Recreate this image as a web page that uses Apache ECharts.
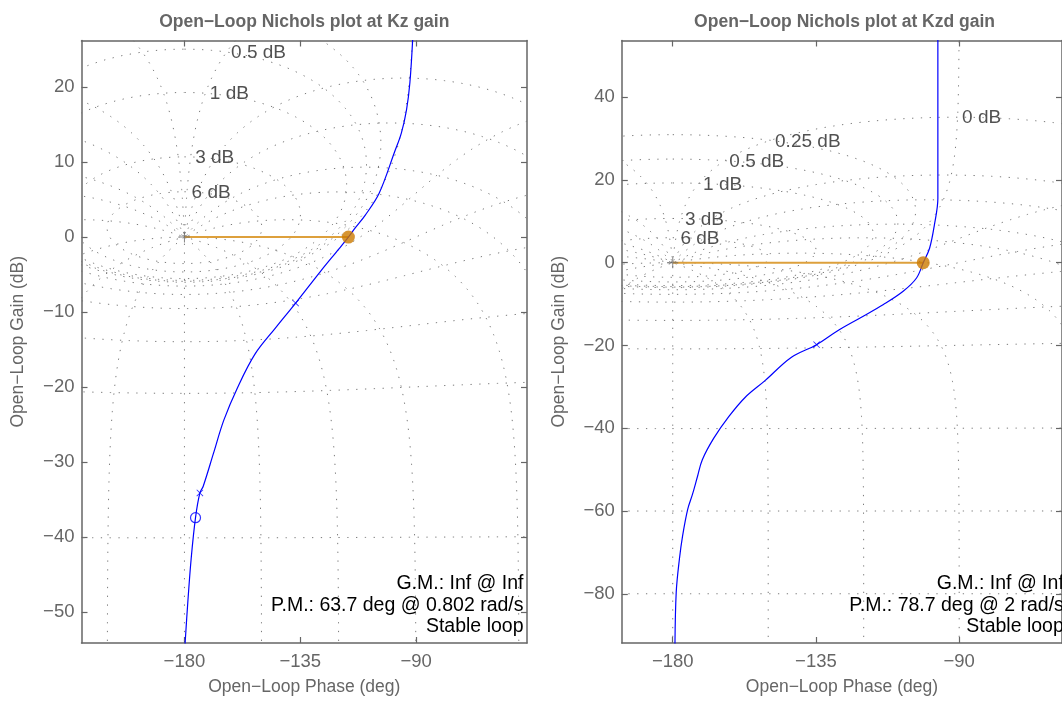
<!DOCTYPE html>
<html><head><meta charset="utf-8">
<script src="https://cdn.jsdelivr.net/npm/echarts@6/dist/echarts.min.js"></script>
<style>html,body{margin:0;padding:0;background:#fff}#c{width:1062px;height:701px}</style>
</head><body><div id="c"></div>
<script>
// ---------------- data ----------------
const phaseTicks = [-180, -135, -90];
const leftGainTicks = [-50, -40, -30, -20, -10, 0, 10, 20];
const rightGainTicks = [-80, -60, -40, -20, 0, 20, 40];
const leftRange = {xmin: -220, xmax: -46.9, ymin: -54.1, ymax: 26.2};
const rightRange = {xmin: -196, xmax: -57.7, ymin: -91.9, ymax: 53.7};

const leftCurvePhase = [-91.3, -92.4, -93.7, -95.7, -98.4, -104.4, -109.8, -113.8, -116.3, -119.8, -127.2, -136.8, -144.6, -152.6, -159.3, -164.7, -168.7, -172.7, -174.0, -175.7, -177.4, -178.7, -179.8];
const leftCurveGain  = [26.5, 20.6, 17.0, 13.9, 11.3, 5.8, 2.9, 1.15, 0, -1.5, -4.6, -8.8, -12.1, -15.6, -20.0, -24.4, -28.8, -33.2, -34.1, -37.4, -42.9, -48.7, -54.4];
const rightCurvePhase = [-96.7, -96.7, -97.8, -99.3, -101.3, -103.4, -107.6, -113.8, -121.0, -128.3, -134.8, -142.8, -151.0, -157.2, -162.4, -167.1, -170.7, -172.2, -173.8, -175.3, -176.9, -177.9, -178.9, -179.3];
const rightCurveGain  = [54.5, 15.5, 9.1, 3.5, 0, -3.7, -6.9, -10.1, -13.3, -16.5, -19.8, -22.9, -28.5, -32.5, -37.2, -42.4, -47.6, -51.6, -56.0, -59.6, -66.0, -71.6, -79.6, -92.5];

const leftPolePhase = [-136.8, -174.0];
const leftPoleGain  = [-8.8, -34.1];
const leftZeroPhase = [-175.7];
const leftZeroGain  = [-37.4];
const rightPolePhase = [-134.8];
const rightPoleGain  = [-19.8];

const leftPM = 63.7, leftWc = '0.802';
const rightPM = 78.7, rightWc = '2';
const titles = ['Open\u2212Loop Nichols plot at Kz gain', 'Open\u2212Loop Nichols plot at Kzd gain'];

// Nichols chart grid levels (closed-loop gain in dB, closed-loop phase in deg)
const gridGainLevels = [6, 3, 1, 0.5, 0.25, 0, -1, -3, -6, -12, -20, -40, -60, -80, -100, -120];
const gridPhaseLevels = [-1, -5, -10, -20, -30, -50, -90, -120, -150, -180, -210, -240, -270, -310, -330, -340, -350, -355, -359];

// ---------------- layout ----------------
const FONT = 'Liberation Sans, Arial, Helvetica, sans-serif';
const grids = [
  {left: 81.5, top: 40.5, width: 445.5, height: 607.5},
  {left: 621.8, top: 40.5, width: 445.5, height: 607.5}
];
const AX = '#666666';

// open loop L = T/(1-T) for closed loop T = M e^{j phi}
function olPoint(M, phiDeg) {
  const p = phiDeg * Math.PI / 180;
  const tr = M * Math.cos(p), ti = M * Math.sin(p);
  const dr = 1 - tr, di = -ti;
  const den = dr * dr + di * di;
  const lr = (tr * dr + ti * di) / den, li = (ti * dr - tr * di) / den;
  return [Math.atan2(li, lr) * 180 / Math.PI, 20 * Math.log10(Math.sqrt(lr * lr + li * li))];
}
function unwrap(pts) {
  let prev = null;
  for (const p of pts) {
    let ph = p[0];
    if (prev === null) { while (ph >= 0) ph -= 360; while (ph < -360) ph += 360; }
    else { while (ph - prev > 180) ph -= 360; while (ph - prev < -180) ph += 360; }
    p[0] = ph; prev = ph;
  }
  return pts;
}
const phiList = (() => {
  const s = new Set();
  for (let i = 0; i <= 720; i++) s.add(i * 0.5);
  for (let k = 0; k <= 80; k++) { const v = Math.pow(10, -2.3 + 2.3 * k / 80); s.add(v); s.add(360 - v); }
  return [...s].sort((a, b) => a - b).map(v => -v);
})();
const gList = (() => {
  const a = [0];
  const top = Math.log10(150);
  for (let k = 0; k <= 700; k++) { const v = Math.pow(10, -3 + (top + 3) * k / 700); a.push(v); a.push(-v); }
  return a.sort((x, y) => x - y);
})();

function contourSets(range) {
  const sets = [];
  const addShifted = (pts) => {
    let mn = Infinity, mx = -Infinity;
    pts.forEach(p => { if (p[0] < mn) mn = p[0]; if (p[0] > mx) mx = p[0]; });
    for (let k = -1; k <= 1; k++) {
      const s = 360 * k;
      if (mx + s >= range.xmin && mn + s <= range.xmax) sets.push(pts.map(p => [p[0] + s, p[1]]));
    }
  };
  gridGainLevels.forEach(g => {
    const M = Math.pow(10, g / 20);
    const phis = phiList.filter(ph => !(g === 0 && (ph === 0 || ph === -360)));
    addShifted(unwrap(phis.map(ph => olPoint(M, ph))));
  });
  gridPhaseLevels.forEach(ph => {
    addShifted(unwrap(gList.map(g => olPoint(Math.pow(10, g / 20), ph))));
  });
  return sets;
}
function labelAnchors() {
  return gridGainLevels.filter(g => g >= 0).map(g => {
    const p = unwrap([olPoint(Math.pow(10, g / 20), -1)])[0];
    return {value: p, name: g + ' dB'};
  });
}

const fmt = v => String(v).replace('-', '\u2212');
function axes(gi, range, yTicks) {
  const common = {
    gridIndex: gi, type: 'value', splitLine: {show: false},
    axisLine: {show: true, onZero: false, lineStyle: {color: AX, width: 1.5}},
    axisTick: {show: true, inside: true, length: 6, lineStyle: {color: AX, width: 1.2}}
  };
  const xs = [
    Object.assign({}, common, {
      position: 'bottom', min: range.xmin, max: range.xmax,
      axisTick: Object.assign({}, common.axisTick, {customValues: phaseTicks}),
      axisLabel: {show: true, customValues: phaseTicks, formatter: fmt, color: AX, fontSize: 18.5, fontFamily: FONT, margin: 9},
      name: 'Open\u2212Loop Phase (deg)', nameLocation: 'middle', nameGap: 35,
      nameTextStyle: {color: AX, fontSize: 17.5, fontFamily: FONT}
    }),
    Object.assign({}, common, {
      position: 'top', min: range.xmin, max: range.xmax,
      axisTick: Object.assign({}, common.axisTick, {customValues: phaseTicks}),
      axisLabel: {show: false}
    })
  ];
  const ys = [
    Object.assign({}, common, {
      position: 'left', min: range.ymin, max: range.ymax,
      axisTick: Object.assign({}, common.axisTick, {customValues: yTicks}),
      axisLabel: {show: true, customValues: yTicks, formatter: fmt, color: AX, fontSize: 18.5, fontFamily: FONT, margin: 7},
      name: 'Open\u2212Loop Gain (dB)', nameLocation: 'middle', nameGap: 54,
      nameTextStyle: {color: AX, fontSize: 17.5, fontFamily: FONT}
    }),
    Object.assign({}, common, {
      position: 'right', min: range.ymin, max: range.ymax,
      axisTick: Object.assign({}, common.axisTick, {customValues: yTicks}),
      axisLabel: {show: false}
    })
  ];
  return {xs, ys};
}

const plusPath = 'path://M-0.09,-1H0.09V-0.09H1V0.09H0.09V1H-0.09V0.09H-1V-0.09H-0.09Z';
const gridLine = {color: '#7a7a7a', width: 1, type: [1.3, 7.5]};

function plotSeries(pi, range, curvePh, curveG, poleP, poleG, zeroP, zeroG, pm) {
  const xi = pi * 2, yi = pi * 2;
  const out = [];
  contourSets(range).forEach(pts => out.push({
    type: 'line', xAxisIndex: xi, yAxisIndex: yi, data: pts, showSymbol: false, symbol: 'none',
    silent: true, clip: true, lineStyle: gridLine, z: 1, animation: false
  }));
  out.push({
    type: 'scatter', xAxisIndex: xi, yAxisIndex: yi, data: labelAnchors(), symbolSize: 1, clip: true,
    itemStyle: {color: 'rgba(0,0,0,0)'}, silent: true, z: 3,
    label: {show: true, formatter: '{b}', position: 'right', distance: 4, offset: [0, 1],
      color: '#262626', fontSize: 19, fontFamily: FONT}
  });
  const crossPh = -180 + pm;
  out.push({
    type: 'line', xAxisIndex: xi, yAxisIndex: yi, data: [[-180, 0], [crossPh, 0]], symbol: 'none',
    lineStyle: {color: '#DDA03C', width: 2}, z: 4, silent: true
  });
  out.push({
    type: 'scatter', xAxisIndex: xi, yAxisIndex: yi, data: [[-180, 0]], symbol: plusPath, symbolSize: 11,
    itemStyle: {color: '#666666'}, z: 5, silent: true
  });
  out.push({
    type: 'line', xAxisIndex: xi, yAxisIndex: yi, data: curvePh.map((p, i) => [p, curveG[i]]),
    symbol: 'none', smooth: 0.35, lineStyle: {color: '#0000FF', width: 1.2}, z: 6, clip: true, silent: true
  });
  out.push({
    type: 'scatter', xAxisIndex: xi, yAxisIndex: yi, data: poleP.map((p, i) => [p, poleG[i]]),
    symbol: plusPath, symbolRotate: 45, symbolSize: 9, itemStyle: {color: '#0000FF'}, z: 7, silent: true
  });
  if (zeroP.length) out.push({
    type: 'scatter', xAxisIndex: xi, yAxisIndex: yi, data: zeroP.map((p, i) => [p, zeroG[i]]),
    symbol: 'circle', symbolSize: 10, itemStyle: {color: 'rgba(0,0,0,0)', borderColor: '#0000FF', borderWidth: 1.2}, z: 7, silent: true
  });
  out.push({
    type: 'scatter', xAxisIndex: xi, yAxisIndex: yi, data: [[crossPh, 0]], symbol: 'circle', symbolSize: 13,
    itemStyle: {color: '#CC7A00'}, z: 8, silent: true
  });
  return out;
}

const a0 = axes(0, leftRange, leftGainTicks);
const a1 = axes(1, rightRange, rightGainTicks);

function marginTexts(gi, pm, wc) {
  const g = grids[gi];
  const x = g.left + g.width - 3.5;
  const lines = ['G.M.: Inf @ Inf', 'P.M.: ' + pm + ' deg @ ' + wc + ' rad/s', 'Stable loop'];
  const ys = [583.3, 605.5, 627];
  return lines.map((t, i) => ({
    type: 'text', x: x, y: ys[i], z: 20, silent: true,
    style: {text: t, fill: '#000', fontSize: 19.5, fontFamily: FONT, align: 'right', verticalAlign: 'middle'}
  }));
}
const graphics = [];
grids.forEach((g, i) => graphics.push({
  type: 'text', x: g.left + g.width / 2, y: 22, silent: true,
  style: {text: titles[i], fill: '#666666', fontSize: 17.5, fontWeight: 'bold', fontFamily: FONT, align: 'center', verticalAlign: 'middle'}
}));
graphics.push(...marginTexts(0, leftPM, leftWc), ...marginTexts(1, rightPM, rightWc));

const chart = echarts.init(document.getElementById('c'), null, {renderer: 'canvas'});
chart.setOption({
  animation: false,
  backgroundColor: '#fff',
  grid: grids.map(g => Object.assign({containLabel: false}, g)),
  xAxis: [...a0.xs, ...a1.xs],
  yAxis: [...a0.ys, ...a1.ys],
  series: [
    ...plotSeries(0, leftRange, leftCurvePhase, leftCurveGain, leftPolePhase, leftPoleGain, leftZeroPhase, leftZeroGain, leftPM),
    ...plotSeries(1, rightRange, rightCurvePhase, rightCurveGain, rightPolePhase, rightPoleGain, [], [], rightPM)
  ],
  graphic: graphics
});
</script></body></html>
